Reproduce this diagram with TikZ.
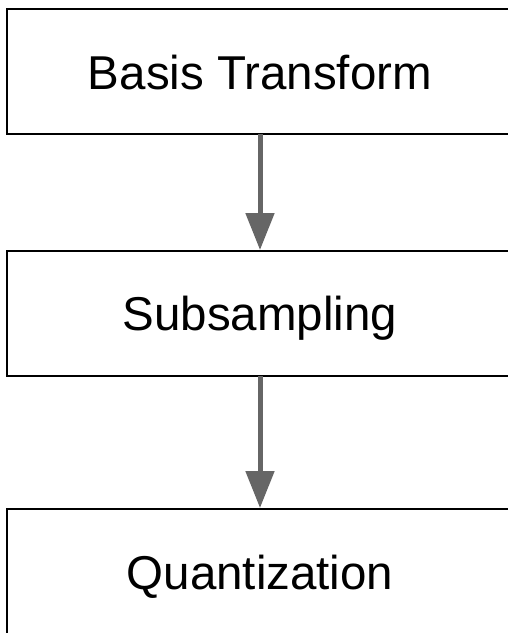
\documentclass[tikz,border=0pt]{standalone}
\usepackage{fontspec}
\setmainfont{Liberation Sans}
\usetikzlibrary{arrows.meta}
\definecolor{flowgray}{HTML}{666666}
\begin{document}
\begin{tikzpicture}[x=1pt,y=-1pt,
  stagebox/.style={draw=black,line width=1.8pt},
  stagelabel/.style={anchor=base,inner sep=0pt,font=\fontsize{47.5}{57}\selectfont},
  flow/.style={draw=flowgray,line width=5pt,-{Triangle[length=37pt,width=28pt]}}]
\useasboundingbox (0,0) rectangle (508,633);
\clip (0,0) rectangle (508,633);
% three stacked stages
\draw[stagebox] (7,9) rectangle (530,134);
\draw[stagebox] (7,251) rectangle (530,376);
\draw[stagebox] (7,509) rectangle (530,660);
\node[stagelabel] (basis) at (260,89) {Basis Transform};
\node[stagelabel] (sub) at (260,330) {Subsampling};
\node[stagelabel] (quant) at (260,589) {Quantization};
% anchor points on the box edges
\coordinate (b1bot) at (260,134);
\coordinate (b2top) at (260,250);
\coordinate (b2bot) at (260,376);
\coordinate (b3top) at (260,508);
\draw[flow] (b1bot) -- (b2top);
\draw[flow] (b2bot) -- (b3top);
\end{tikzpicture}
\end{document}
